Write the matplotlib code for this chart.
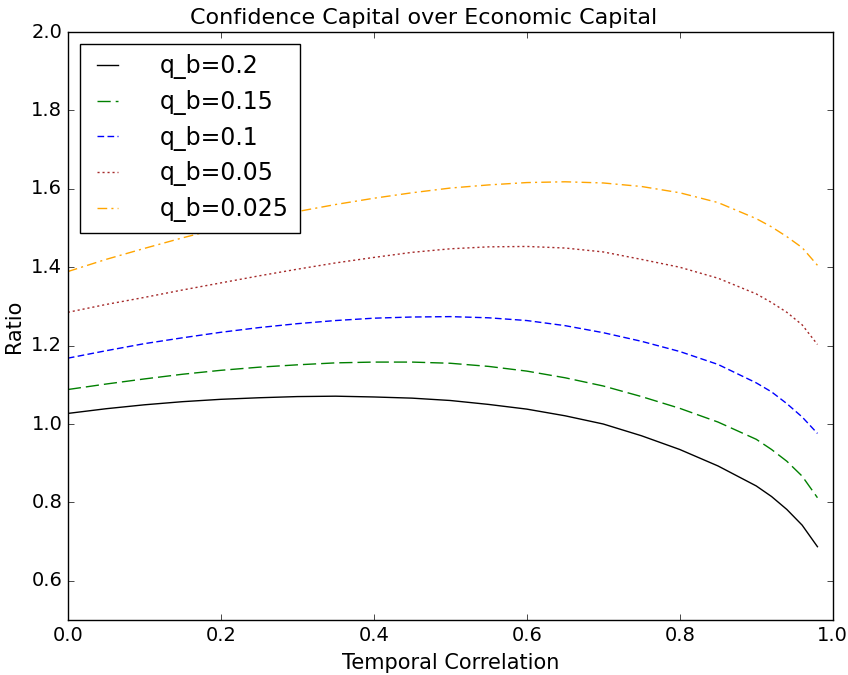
import matplotlib
matplotlib.use("Agg")
import matplotlib.pyplot as plt

plt.style.use("classic")

corr = [0.0, 0.05, 0.1, 0.15, 0.2, 0.25, 0.3, 0.35, 0.4, 0.45, 0.5, 0.55,
        0.6, 0.65, 0.7, 0.75, 0.8, 0.85, 0.9, 0.92, 0.94, 0.96, 0.98]

ratio_q020 = [1.027, 1.039, 1.049, 1.057, 1.063, 1.067, 1.070, 1.071, 1.069, 1.066,
              1.060, 1.050, 1.038, 1.021, 1.000, 0.970, 0.935, 0.893, 0.842, 0.815,
              0.782, 0.742, 0.687]
ratio_q015 = [1.088, 1.102, 1.115, 1.127, 1.137, 1.145, 1.151, 1.156, 1.158, 1.158,
              1.155, 1.147, 1.135, 1.118, 1.097, 1.070, 1.040, 1.005, 0.961, 0.935,
              0.905, 0.867, 0.812]
ratio_q010 = [1.168, 1.187, 1.205, 1.220, 1.234, 1.246, 1.256, 1.264, 1.270, 1.273,
              1.274, 1.271, 1.264, 1.251, 1.233, 1.211, 1.185, 1.152, 1.105, 1.082,
              1.052, 1.018, 0.976]
ratio_q005 = [1.285, 1.305, 1.323, 1.342, 1.360, 1.378, 1.395, 1.411, 1.425, 1.438,
              1.447, 1.452, 1.453, 1.449, 1.439, 1.420, 1.400, 1.372, 1.332, 1.310,
              1.285, 1.253, 1.203]
ratio_q0025 = [1.389, 1.420, 1.448, 1.475, 1.500, 1.522, 1.542, 1.560, 1.576, 1.590,
               1.602, 1.610, 1.616, 1.618, 1.615, 1.606, 1.590, 1.565, 1.524, 1.503,
               1.478, 1.450, 1.405]

labels = ["q_b=0.2", "q_b=0.15", "q_b=0.1", "q_b=0.05", "q_b=0.025"]
series = [ratio_q020, ratio_q015, ratio_q010, ratio_q005, ratio_q0025]
colors = ["black", "green", "blue", "brown", "orange"]
dashes = [None, (9.5, 3.6), (4.8, 2.4), (1.5, 2.1), (7, 3, 1.5, 3)]

fig = plt.figure(figsize=(8.48, 6.75), dpi=100)
ax = fig.add_axes([0.080, 0.0815, 0.902, 0.871])

for y, lab, c, d in zip(series, labels, colors, dashes):
    if d is None:
        ax.plot(corr, y, color=c, lw=1.0, linestyle="-", label=lab)
    else:
        ax.plot(corr, y, color=c, lw=1.0, linestyle="--", dashes=d, label=lab)

ax.set_xlim(0.0, 1.0)
ax.set_ylim(0.5, 2.0)
ax.set_xticks([0.0, 0.2, 0.4, 0.6, 0.8, 1.0])
ax.set_yticks([0.6, 0.8, 1.0, 1.2, 1.4, 1.6, 1.8, 2.0])
ax.tick_params(labelsize=14)
fig.text(0.5, 1 - 24 / 675, "Confidence Capital over Economic Capital",
         fontsize=16, ha="center", va="baseline")
ax.set_xlabel("Temporal Correlation", fontsize=15, labelpad=6)
ax.set_ylabel("Ratio", fontsize=15)
ax.legend(loc="upper left", fontsize=17, handlelength=1.47, handletextpad=1.48,
          labelspacing=0.45, borderpad=0.45, fancybox=False)

fig.savefig("out.png", dpi=100)
